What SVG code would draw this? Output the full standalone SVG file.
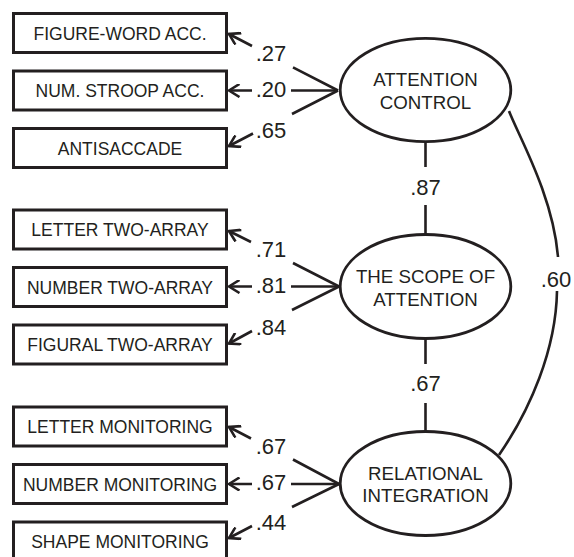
<svg xmlns="http://www.w3.org/2000/svg" width="574" height="557" viewBox="0 0 574 557">
  <style>
    .box { fill: #fff; stroke: #231f20; stroke-width: 3; }
    .latent { fill: #fff; stroke: #231f20; stroke-width: 2.8; }
    .btxt { font-family: "Liberation Sans", Arial, sans-serif; font-size: 17.5px; fill: #231f20; text-anchor: middle; }
    .ltxt { font-family: "Liberation Sans", Arial, sans-serif; font-size: 18.7px; fill: #231f20; text-anchor: middle; }
    .coef { font-family: "Liberation Sans", Arial, sans-serif; font-size: 22px; fill: #231f20; text-anchor: middle; }
    .edge { fill: none; stroke: #231f20; stroke-width: 2.6; }
    .arrow { marker-end: url(#head); }
  </style>
  <defs>
    <marker id="head" viewBox="-12 -7 14 14" markerWidth="14" markerHeight="14" refX="0" refY="0" orient="auto" markerUnits="userSpaceOnUse">
      <path d="M-10.5,-6.5 L0,0 L-10.5,6.5" fill="none" stroke="#231f20" stroke-width="2.6" stroke-linejoin="miter"/>
    </marker>
  </defs>

  <rect width="574" height="557" fill="#fff"/>

  <!-- connectors: loadings, factor correlations -->
  <g id="connectors">
    <!-- attention control loadings -->
    <path class="edge arrow" d="M338,90.5 L293,67.3 M252,46 L229,34"/>
    <path class="edge arrow" d="M338,90.5 L291,90.5 M252,90.5 L229,90.5"/>
    <path class="edge arrow" d="M338,90.5 L292,114 M253,133.5 L229,146"/>
    <!-- scope of attention loadings -->
    <path class="edge arrow" d="M339,286.5 L293,263 M251,242 L229,231"/>
    <path class="edge arrow" d="M339,286.5 L291,286.5 M252,286.5 L229,286.5"/>
    <path class="edge arrow" d="M339,286.5 L292,310 M252,331 L229,343.5"/>
    <!-- relational integration loadings -->
    <path class="edge arrow" d="M339,484 L293,459.5 M251,438.5 L229,427"/>
    <path class="edge arrow" d="M339,484 L291,484 M252,484 L229,484"/>
    <path class="edge arrow" d="M339,484 L292,507 M252,526 L229,538"/>
    <!-- factor correlations -->
    <path class="edge" d="M425.5,143 L425.5,167 M425.5,205 L425.5,234"/>
    <path class="edge" d="M425.5,339 L425.5,364 M425.5,403 L425.5,431"/>
    <path class="edge" d="M509,111 C518,135 553,195 558,257 M557,291 C556,350 530,410 499,455"/>
    <text class="coef" x="271" y="61">.27</text>
    <text class="coef" x="271" y="97">.20</text>
    <text class="coef" x="271" y="138">.65</text>
    <text class="coef" x="271" y="257">.71</text>
    <text class="coef" x="271" y="293">.81</text>
    <text class="coef" x="271" y="335">.84</text>
    <text class="coef" x="271" y="454">.67</text>
    <text class="coef" x="271" y="490">.67</text>
    <text class="coef" x="271" y="530">.44</text>
    <text class="coef" x="425.5" y="195">.87</text>
    <text class="coef" x="425.5" y="391">.67</text>
    <text class="coef" x="556" y="287">.60</text>
  </g>

  <!-- observed measures -->
  <g id="figure-word">
    <rect class="box" x="13.5" y="13.5" width="213" height="39"/>
    <text class="btxt" x="120" y="40">FIGURE-WORD ACC.</text>
  </g>
  <g id="num-stroop">
    <rect class="box" x="13.5" y="71" width="213" height="39"/>
    <text class="btxt" x="120" y="97">NUM. STROOP ACC.</text>
  </g>
  <g id="antisaccade">
    <rect class="box" x="13.5" y="128.5" width="213" height="39"/>
    <text class="btxt" x="120" y="154.5">ANTISACCADE</text>
  </g>
  <g id="letter-two-array">
    <rect class="box" x="13.5" y="210" width="213" height="39"/>
    <text class="btxt" x="120" y="236">LETTER TWO-ARRAY</text>
  </g>
  <g id="number-two-array">
    <rect class="box" x="13.5" y="267.5" width="213" height="39"/>
    <text class="btxt" x="120" y="293.5">NUMBER TWO-ARRAY</text>
  </g>
  <g id="figural-two-array">
    <rect class="box" x="13.5" y="325" width="213" height="39"/>
    <text class="btxt" x="120" y="351">FIGURAL TWO-ARRAY</text>
  </g>
  <g id="letter-monitoring">
    <rect class="box" x="13.5" y="407" width="213" height="39"/>
    <text class="btxt" x="120" y="433">LETTER MONITORING</text>
  </g>
  <g id="number-monitoring">
    <rect class="box" x="13.5" y="464.5" width="213" height="39"/>
    <text class="btxt" x="120" y="490.5">NUMBER MONITORING</text>
  </g>
  <g id="shape-monitoring">
    <rect class="box" x="13.5" y="522" width="213" height="39"/>
    <text class="btxt" x="120" y="548">SHAPE MONITORING</text>
  </g>

  <!-- latent factors -->
  <g id="attention-control">
    <ellipse class="latent" cx="425.5" cy="90" rx="85.3" ry="51.6"/>
    <text class="ltxt" x="425.5" y="86">ATTENTION</text>
    <text class="ltxt" x="425.5" y="109">CONTROL</text>
  </g>
  <g id="scope-of-attention">
    <ellipse class="latent" cx="425.5" cy="286.5" rx="85.3" ry="52"/>
    <text class="ltxt" x="425.5" y="283">THE SCOPE OF</text>
    <text class="ltxt" x="425.5" y="306">ATTENTION</text>
  </g>
  <g id="relational-integration">
    <ellipse class="latent" cx="425.5" cy="483.5" rx="85.3" ry="52"/>
    <text class="ltxt" x="425.5" y="480">RELATIONAL</text>
    <text class="ltxt" x="425.5" y="502">INTEGRATION</text>
  </g>
</svg>
